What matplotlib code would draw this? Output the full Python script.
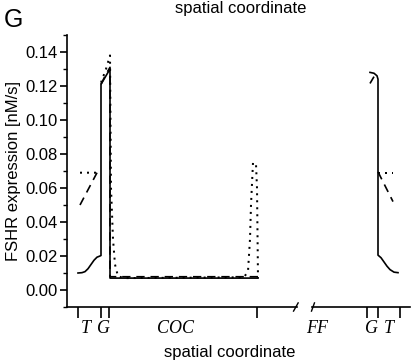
import numpy as np
import matplotlib
matplotlib.use('Agg')
import matplotlib.pyplot as plt
from matplotlib.ticker import MultipleLocator
import matplotlib.transforms as mtransforms

plt.rcParams['font.family'] = ['Liberation Sans', 'DejaVu Sans']

nan = np.nan

# spatial coordinate (arbitrary units) and FSHR expression [nM/s]
solid_x = [78, 82, 85, 88, 91, 94, 97, 100, 101, 101, 105, 109, 110, 110, 200, 258]
solid_y = [0.0100, 0.0102, 0.0108, 0.0125, 0.0150, 0.0175, 0.0193, 0.0200, 0.0203,
           0.121, 0.125, 0.129, 0.130, 0.007, 0.007, 0.007]
solid_rx = [370, 374, 377, 378, 378, 381, 384, 387, 390, 394, 398]
solid_ry = [0.128, 0.1275, 0.126, 0.124, 0.0205, 0.019, 0.0165, 0.014, 0.012, 0.0105, 0.0102]

dash_x = [80, 97, nan, 101, 106, 110, 110, 258]
dash_y = [0.050, 0.069, nan, 0.121, 0.127, 0.131, 0.0078, 0.0078]
dash_rx = [370, 374, nan, 378, 393]
dash_ry = [0.1215, 0.1255, nan, 0.0695, 0.052]

dot_x = [80, 97, nan, 101, 106, 110, 111, 112, 113, 115, 118, 125, 244, 248, 250, 251, 253, 256, 257, 258]
dot_y = [0.069, 0.069, nan, 0.122, 0.130, 0.138, 0.060, 0.045, 0.030, 0.015, 0.008, 0.007,
         0.0075, 0.011, 0.030, 0.050, 0.075, 0.074, 0.060, 0.007]
dot_rx = [378, 393]
dot_ry = [0.069, 0.069]

left_ticks = [78, 101, 109, 257]
right_ticks = [367, 378, 400]
left_labels = [(86, 'T'), (104, 'G'), (175, 'COC')]
right_labels = [(317, 'FF'), (371, 'G'), (389, 'T')]

fig = plt.figure(figsize=(4.12, 3.61), dpi=100)
W, H = 412, 361
ax1 = fig.add_axes([67 / W, (H - 307) / H, (297 - 67) / W, (307 - 35) / H])
ax2 = fig.add_axes([312 / W, (H - 307) / H, (410 - 312) / W, (307 - 35) / H], sharey=ax1)

lw = 1.2
for ax in (ax1, ax2):
    ax.plot(solid_x, solid_y, 'k-', lw=lw)
    ax.plot(solid_rx, solid_ry, 'k-', lw=lw)
    ax.plot(dash_x, dash_y, 'k', lw=lw, dashes=(5, 3.5))
    ax.plot(dash_rx, dash_ry, 'k', lw=lw, dashes=(5, 3.5))
    ax.plot(dot_x, dot_y, 'k', lw=lw * 1.2, dashes=(1, 2.5))
    ax.plot(dot_rx, dot_ry, 'k', lw=lw * 1.2, dashes=(1, 2.5))
    for s in ['top', 'right']:
        ax.spines[s].set_visible(False)
    ax.spines['bottom'].set_linewidth(1.2)
    ax.spines['left'].set_linewidth(1.2)
    ax.tick_params(axis='x', direction='out', length=8, width=1.2, labelbottom=False)

ax1.set_xlim(67, 297)
ax2.set_xlim(312, 410)
ax1.set_ylim(-0.01, 0.15)
ax1.set_xticks(left_ticks)
ax2.set_xticks(right_ticks)
ax2.spines['left'].set_visible(False)
ax2.tick_params(axis='y', left=False, labelleft=False, which='both')

ax1.yaxis.set_major_locator(MultipleLocator(0.02))
ax1.yaxis.set_minor_locator(MultipleLocator(0.01))
ax1.tick_params(axis='y', which='major', length=5, width=1.2, labelsize=12, pad=2)
ax1.tick_params(axis='y', which='minor', length=3, width=1.0)
ax1.set_yticks(np.arange(0, 0.141, 0.02))
ax1.set_yticklabels(['%.2f' % v for v in np.arange(0, 0.141, 0.02)])
ax1.set_ylabel('FSHR expression [nM/s]', fontsize=12, labelpad=3)

# region labels under the axis
tr1 = mtransforms.blended_transform_factory(ax1.transData, ax1.transAxes)
tr2 = mtransforms.blended_transform_factory(ax2.transData, ax2.transAxes)
for x, s in left_labels:
    ax1.text(x, -0.078, s, transform=tr1, ha='center', va='center', fontsize=13,
             family='Liberation Serif', style='italic')
for x, s in right_labels:
    ax2.text(x, -0.078, s, transform=tr2, ha='center', va='center', fontsize=13,
             family='Liberation Serif', style='italic')

# axis break marks
ax1.plot([0.985, 1.005], [-0.015, 0.015], transform=ax1.transAxes, color='k', lw=1, clip_on=False)
ax2.plot([-0.005, 0.025], [-0.015, 0.015], transform=ax2.transAxes, color='k', lw=1, clip_on=False)

fig.text(230 / W, 1 - 352 / H, 'spatial coordinate', ha='center', va='center', fontsize=12)
fig.text(241 / W, 1 - 9 / H, 'spatial coordinate', ha='center', va='center', fontsize=12)
fig.text(4 / W, 1 - 20 / H, 'G', ha='left', va='center', fontsize=18)

fig.savefig('out.png', dpi=100)
